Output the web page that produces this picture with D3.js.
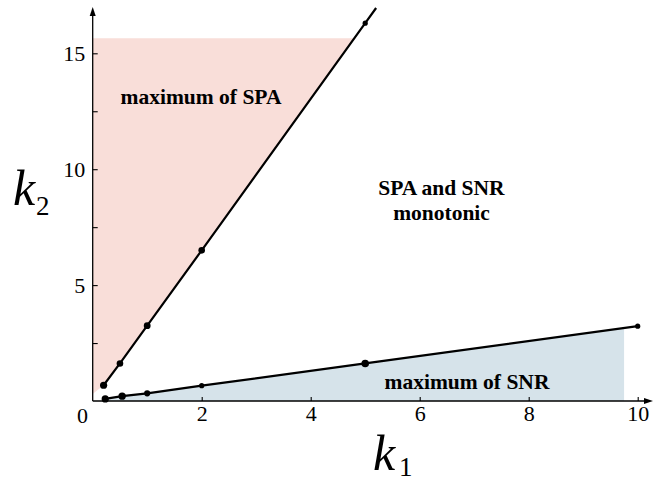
<!DOCTYPE html>
<html>
<head>
<meta charset="utf-8">
<script src="https://cdn.jsdelivr.net/npm/d3@7"></script>
<style>
  body { margin: 0; background: #fff; }
  svg { display: block; }
  svg text { font-family: 'Liberation Serif', 'DejaVu Serif', serif; fill: #000; }
</style>
</head>
<body>
<svg id="chart" width="665" height="481"></svg>
<script>
// Boundary line of the SPA-maximum region (k1, k2)
const spaK1 = [0.2, 0.5, 1, 2, 5];
const spaK2 = [0.68, 1.62, 3.25, 6.5, 16.3];

// Boundary line of the SNR-maximum region (k1, k2)
const snrK1 = [0.23, 0.54, 1, 2, 5, 10];
const snrK2 = [0.09, 0.21, 0.33, 0.66, 1.62, 3.23];

// Axis ticks
const xTicks = [2, 4, 6, 8, 10];
const xTickLabels = ["2", "4", "6", "8", "10"];
const yTicks = [2.5, 5, 7.5, 10, 12.5, 15];
const yTickLabels = ["", "5", "", "10", "", "15"];

// Extent of the shaded regions
const spaShadeTop = 15.65;
const spaShadeAxisK2 = 0.3;
const snrShadeRight = 9.75;

// Region captions
const captionSPA = ["maximum of SPA"];
const captionSNR = ["maximum of SNR"];
const captionMono = ["SPA and SNR", "monotonic"];

// Marker radii for each point
const spaDotR = [3.6, 3.3, 3.4, 3.3, 2.6];
const snrDotR = [3.6, 3.7, 3.1, 2.6, 3.8, 2.6];

const SERIF = "'Liberation Serif', 'DejaVu Serif', serif";
const svg = d3.select("#chart");

const x = d3.scaleLinear().domain([0, 10]).range([92.7, 637.7]);
const y = d3.scaleLinear().domain([0, 15]).range([401, 53.3]);

const spaPts = spaK1.map((k, i) => [k, spaK2[i]]);
const snrPts = snrK1.map((k, i) => [k, snrK2[i]]);

// linear interpolation along a polyline
function k2At(pts, k1) {
  for (let i = 1; i < pts.length; i++) {
    const [x0, y0] = pts[i - 1], [x1, y1] = pts[i];
    if (k1 <= x1 || i === pts.length - 1) {
      return y0 + (y1 - y0) * (k1 - x0) / (x1 - x0);
    }
  }
}
function k1At(pts, k2) {
  for (let i = 1; i < pts.length; i++) {
    const [x0, y0] = pts[i - 1], [x1, y1] = pts[i];
    if (k2 <= y1 || i === pts.length - 1) {
      return x0 + (x1 - x0) * (k2 - y0) / (y1 - y0);
    }
  }
}

const line = d3.line().x(d => x(d[0])).y(d => y(d[1]));
const area = d3.line().x(d => x(d[0])).y(d => y(d[1])).curve(d3.curveLinearClosed);

// Pink region: between the k2 axis and the SPA boundary
const spaTopK1 = k1At(spaPts, spaShadeTop);
const pinkPoly = [[0, spaShadeAxisK2], [0, spaShadeTop], [spaTopK1, spaShadeTop]]
  .concat(spaPts.filter(p => p[1] < spaShadeTop).reverse());
svg.append("path").attr("d", area(pinkPoly)).attr("fill", "#f9ded9");

// Blue region: between the SNR boundary and the k1 axis
const bluePoly = [[snrK1[0], 0]]
  .concat(snrPts.filter(p => p[0] < snrShadeRight))
  .concat([[snrShadeRight, k2At(snrPts, snrShadeRight)], [snrShadeRight, 0]]);
svg.append("path").attr("d", area(bluePoly)).attr("fill", "#d6e3ea");

// Axes
const yAxisTop = y.invert(7);
const axisG = svg.append("g").attr("stroke", "#000").attr("stroke-width", 1.3);
axisG.append("line").attr("x1", x(0)).attr("x2", x(0)).attr("y1", y(0)).attr("y2", y(yAxisTop) + 6);
axisG.append("line").attr("x1", x(0)).attr("x2", 647).attr("y1", y(0)).attr("y2", y(0));
svg.append("path")
  .attr("d", `M${x(0)},${y(yAxisTop)} L${x(0) - 3},${y(yAxisTop) + 9} L${x(0) + 3},${y(yAxisTop) + 9} Z`)
  .attr("fill", "#000");
svg.append("path")
  .attr("d", `M653,${y(0)} L644,${y(0) - 3} L644,${y(0) + 3} Z`)
  .attr("fill", "#000");

const xAxis = d3.axisBottom(x).tickValues(xTicks).tickSize(-4).tickPadding(4.4)
  .tickFormat((d, i) => xTickLabels[i]);
const gx = svg.append("g").attr("transform", `translate(0,${y(0)})`).call(xAxis);
gx.select(".domain").remove();

const yAxis = d3.axisLeft(y).tickValues(yTicks).tickSize(-5).tickPadding(7.5)
  .tickFormat((d, i) => yTickLabels[i]);
const gy = svg.append("g").attr("transform", `translate(${x(0)},0)`).call(yAxis);
gy.select(".domain").remove();

[gx, gy].forEach(g => {
  g.attr("font-family", SERIF).attr("font-size", 22);
  g.selectAll(".tick line").attr("stroke", "#000").attr("stroke-width", 1.1);
  g.selectAll(".tick text").attr("font-family", SERIF).attr("font-size", 22).attr("fill", "#000");
});

svg.append("text").attr("x", 82.5).attr("y", 423).attr("text-anchor", "middle")
  .attr("font-family", SERIF).attr("font-size", 22).text("0");

// SPA boundary, continued past its last point up to the top of the k2 axis
const spaEnd = [k1At(spaPts, y.invert(8)), y.invert(8)];
svg.append("path").attr("d", line(spaPts.concat([spaEnd])))
  .attr("fill", "none").attr("stroke", "#000").attr("stroke-width", 2.2);
svg.append("path").attr("d", line(snrPts))
  .attr("fill", "none").attr("stroke", "#000").attr("stroke-width", 2.2);

svg.append("g").selectAll("circle").data(spaPts).join("circle")
  .attr("cx", d => x(d[0])).attr("cy", d => y(d[1])).attr("r", (d, i) => spaDotR[i]).attr("fill", "#000");
svg.append("g").selectAll("circle").data(snrPts).join("circle")
  .attr("cx", d => x(d[0])).attr("cy", d => y(d[1])).attr("r", (d, i) => snrDotR[i]).attr("fill", "#000");

// Region captions, one text element per line
function caption(lines, cx, baseY, lineGap) {
  lines.forEach((s, i) => svg.append("text")
    .attr("x", cx).attr("y", baseY + i * lineGap)
    .attr("text-anchor", "middle")
    .attr("font-family", SERIF)
    .attr("font-size", 21.5).attr("font-weight", "bold")
    .text(s));
}
caption(captionSPA, 201, 103.5, 0);
caption(captionSNR, 467, 389, 0);
caption(captionMono, 441.5, 195, 24.5);

// Axis titles
function axisTitle(main, sub, tx, ty, sx, sy) {
  svg.append("text").attr("x", tx).attr("y", ty).attr("font-family", SERIF).attr("font-size", 50)
    .attr("font-style", "italic").text(main);
  svg.append("text").attr("x", sx).attr("y", sy).attr("font-family", SERIF).attr("font-size", 27).text(sub);
}
axisTitle("k", "2", 13, 205, 36, 215);
axisTitle("k", "1", 373, 470, 399, 476);
</script>
</body>
</html>
